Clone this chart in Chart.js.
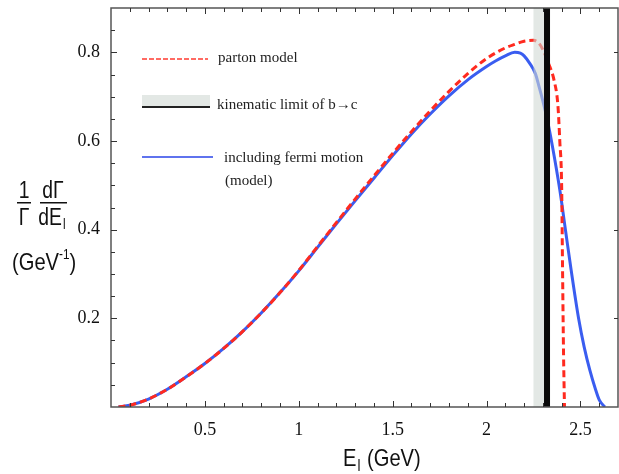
<!DOCTYPE html>
<html>
<head>
<meta charset="utf-8">
<script src="https://cdn.jsdelivr.net/npm/chart.js@4/dist/chart.umd.min.js"></script>
<style>
  html, body { margin: 0; padding: 0; background: #fff; }
  canvas { display: block; }
</style>
</head>
<body>
<canvas id="c" width="619" height="474"></canvas>
<script>
// lepton energy grid (GeV) and spectra
const partonEnergy = [0.04, 0.1, 0.2, 0.3, 0.4, 0.5, 0.6, 0.7, 0.8, 0.9, 1.0, 1.1, 1.2, 1.3, 1.4, 1.5, 1.6, 1.7, 1.8, 1.9, 2.0, 2.1, 2.15, 2.2, 2.25, 2.28, 2.3, 2.33, 2.36, 2.38, 2.39, 2.4, 2.405, 2.41, 2.415];
const partonRate = [0, 0.004, 0.018, 0.04, 0.068, 0.098, 0.132, 0.17, 0.212, 0.258, 0.308, 0.362, 0.416, 0.469, 0.521, 0.572, 0.621, 0.668, 0.712, 0.752, 0.786, 0.81, 0.818, 0.825, 0.827, 0.82, 0.806, 0.775, 0.736, 0.68, 0.6, 0.495, 0.3, 0.12, 0];

const fermiEnergy = [0.04, 0.1, 0.2, 0.3, 0.4, 0.5, 0.6, 0.7, 0.8, 0.9, 1.0, 1.1, 1.2, 1.3, 1.4, 1.5, 1.6, 1.7, 1.8, 1.9, 2.0, 2.05, 2.1, 2.15, 2.18, 2.2, 2.23, 2.26, 2.28, 2.3, 2.32, 2.35, 2.39, 2.42, 2.45, 2.49, 2.52, 2.55, 2.58, 2.6, 2.63];
const fermiRate = [0, 0.004, 0.018, 0.04, 0.068, 0.098, 0.132, 0.17, 0.212, 0.258, 0.307, 0.36, 0.413, 0.465, 0.516, 0.567, 0.616, 0.661, 0.702, 0.738, 0.768, 0.781, 0.792, 0.8, 0.798, 0.792, 0.775, 0.752, 0.722, 0.69, 0.655, 0.59, 0.49, 0.4, 0.31, 0.2, 0.135, 0.083, 0.04, 0.016, 0];

const xTickValues = [0.5, 1, 1.5, 2, 2.5];
const xTickLabels = ["0.5", "1", "1.5", "2", "2.5"];
const yTickValues = [0.2, 0.4, 0.6, 0.8];
const yTickLabels = ["0.2", "0.4", "0.6", "0.8"];

const bandRange = [2.25, 2.31];   // shaded band
const kinematicLimit = 2.322;     // b -> c endpoint

const serif = "'Liberation Serif', 'Times New Roman', serif";
const sans = "'Liberation Sans', Arial, sans-serif";

function pts(xs, ys) {
  return xs.map((x, i) => ({ x: x, y: ys[i] }));
}

// condensed sans text, the original uses a narrow face
function narrowText(ctx, txt, x, y, size, align) {
  ctx.save();
  ctx.font = size + "px " + sans;
  ctx.textAlign = align || "left";
  ctx.translate(x, y);
  ctx.scale(0.84, 1);
  ctx.fillText(txt, 0, 0);
  const w = ctx.measureText(txt).width * 0.84;
  ctx.restore();
  return w;
}

const decor = {
  id: "decor",
  afterDatasetsDraw(chart) {
    const ctx = chart.ctx;
    const a = chart.chartArea;
    const xs = chart.scales.x;
    // shaded band (a bit see-through, curves show through it)
    const b0 = xs.getPixelForValue(bandRange[0]);
    const b1 = xs.getPixelForValue(bandRange[1]);
    ctx.save();
    ctx.fillStyle = "rgba(208,216,212,0.6)";
    ctx.fillRect(b0, a.top, b1 - b0, a.bottom - a.top);
    // black limit line
    const k = xs.getPixelForValue(kinematicLimit);
    ctx.fillStyle = "#0a0a0a";
    ctx.fillRect(k - 3, a.top, 6, a.bottom - a.top);
    ctx.restore();
  },
  afterDraw(chart) {
    const ctx = chart.ctx;
    const a = chart.chartArea;
    const xs = chart.scales.x;
    const ys = chart.scales.y;
    ctx.save();

    // frame
    ctx.strokeStyle = "#555";
    ctx.lineWidth = 1.5;
    ctx.strokeRect(a.left, a.top, a.right - a.left, a.bottom - a.top);

    // ticks pointing inward
    ctx.lineWidth = 1;
    ctx.strokeStyle = "#333";
    ctx.beginPath();
    for (let i = 1; i <= 26; i++) {
      const v = i / 10;
      const p = Math.round(xs.getPixelForValue(v)) + 0.5;
      const major = i % 5 === 0;
      const len = major ? 6 : 4;
      ctx.moveTo(p, a.bottom); ctx.lineTo(p, a.bottom - len);
      ctx.moveTo(p, a.top); ctx.lineTo(p, a.top + len);
    }
    for (let i = 1; i <= 17; i++) {
      const v = i * 0.05;
      const p = Math.round(ys.getPixelForValue(v)) + 0.5;
      const major = i % 4 === 0;
      const len = major ? 6 : 4;
      ctx.moveTo(a.left, p); ctx.lineTo(a.left + len, p);
      if (major) { ctx.moveTo(a.right, p); ctx.lineTo(a.right - 4, p); }
    }
    ctx.stroke();

    // legend
    ctx.textBaseline = "middle";
    ctx.textAlign = "left";
    ctx.font = "15px " + serif;
    ctx.fillStyle = "#222";

    ctx.strokeStyle = "#ff3b30";
    ctx.lineWidth = 1.5;
    ctx.setLineDash([5, 2]);
    ctx.beginPath(); ctx.moveTo(142, 59); ctx.lineTo(208, 59); ctx.stroke();
    ctx.setLineDash([]);
    ctx.fillText("parton model", 218, 58);

    ctx.fillStyle = "#e3e8e5";
    ctx.fillRect(142, 95, 68, 12);
    ctx.fillStyle = "#222";
    ctx.fillRect(142, 106, 68, 2);
    ctx.fillText("kinematic limit of b\u2192c", 217, 105);

    ctx.strokeStyle = "#2a44e8";
    ctx.lineWidth = 1.5;
    ctx.beginPath(); ctx.moveTo(142, 157); ctx.lineTo(213, 157); ctx.stroke();
    ctx.fillText("including fermi motion", 224, 158);
    ctx.fillText("(model)", 225, 181);

    // y axis title: 1/Γ dΓ/dE_l (GeV^-1)
    ctx.fillStyle = "#111";
    ctx.textBaseline = "alphabetic";
    narrowText(ctx, "1", 24, 198, 23, "center");
    narrowText(ctx, "\u0393", 24, 225, 23, "center");
    narrowText(ctx, "d\u0393", 53, 198, 23, "center");
    narrowText(ctx, "dE", 50, 225, 23, "center");
    ctx.fillRect(17, 202, 14, 1.5);
    ctx.fillRect(40, 202, 27, 1.5);
    narrowText(ctx, "l", 63, 229, 14, "left");
    let w = narrowText(ctx, "(GeV", 12, 270, 24);
    let w2 = narrowText(ctx, "-1", 12 + w, 259, 14);
    narrowText(ctx, ")", 12 + w + w2, 270, 24);

    // x axis title: E_l (GeV)
    let we = narrowText(ctx, "E", 343, 466, 24);
    narrowText(ctx, "l", 343 + we + 1, 471, 16);
    narrowText(ctx, "(GeV)", 367, 466, 24);

    ctx.restore();
  }
};

new Chart(document.getElementById("c"), {
  type: "line",
  data: {
    datasets: [
      {
        label: "parton model",
        data: pts(partonEnergy, partonRate),
        borderColor: "#ff2a1f",
        borderWidth: 3,
        borderDash: [7, 4],
        pointRadius: 0,
        fill: false,
        cubicInterpolationMode: "monotone"
      },
      {
        label: "including fermi motion (model)",
        data: pts(fermiEnergy, fermiRate),
        borderColor: "#3a5df0",
        borderWidth: 3,
        pointRadius: 0,
        fill: false,
        cubicInterpolationMode: "monotone"
      }
    ]
  },
  options: {
    responsive: false,
    animation: false,
    events: [],
    layout: { padding: { top: 8, right: 1, left: 0, bottom: 0 } },
    plugins: { legend: { display: false }, tooltip: { enabled: false } },
    scales: {
      x: {
        type: "linear",
        min: 0,
        max: 2.7,
        grid: { display: false, drawTicks: false },
        border: { display: false },
        afterBuildTicks: (s) => { s.ticks = xTickValues.map(v => ({ value: v })); },
        afterFit: (s) => { s.height = 67; s.paddingLeft = 0; s.paddingRight = 0; },
        ticks: {
          padding: 12,
          color: "#111",
          font: { family: serif, size: 18 },
          maxRotation: 0,
          autoSkip: false,
          callback: (v) => xTickLabels[xTickValues.indexOf(v)]
        }
      },
      y: {
        type: "linear",
        min: 0,
        max: 0.9,
        grid: { display: false, drawTicks: false },
        border: { display: false },
        afterBuildTicks: (s) => { s.ticks = yTickValues.map(v => ({ value: v })); },
        afterFit: (s) => { s.width = 111; s.paddingTop = 0; s.paddingBottom = 0; },
        ticks: {
          padding: 11,
          color: "#111",
          font: { family: serif, size: 18 },
          autoSkip: false,
          callback: (v) => yTickLabels[yTickValues.indexOf(v)]
        }
      }
    }
  },
  plugins: [decor]
});
</script>
</body>
</html>
